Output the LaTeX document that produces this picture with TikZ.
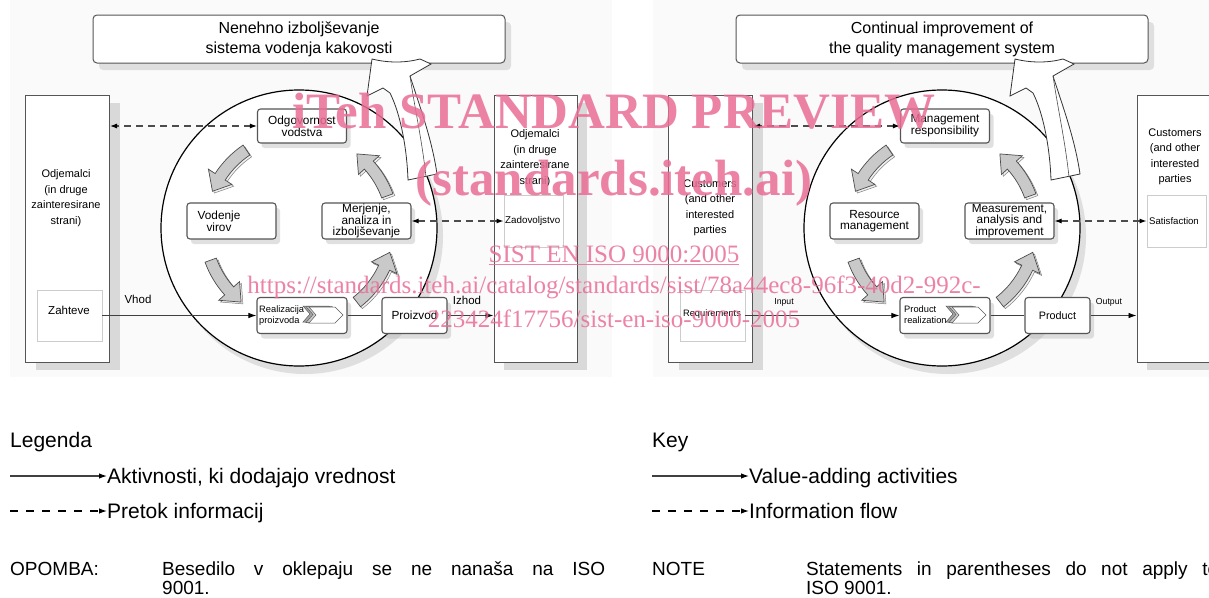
\documentclass[tikz,border=0pt]{standalone}
\usepackage{fontspec}
\setmainfont{Liberation Sans}
\newfontfamily\wmfont{Liberation Serif}
\usetikzlibrary{arrows.meta,shadows,positioning}

\definecolor{wmpink}{RGB}{233,110,150}
\definecolor{boxline}{RGB}{85,85,85}
\definecolor{panelgray}{RGB}{250,250,250}

\tikzset{
  titlebox/.style={draw=boxline, line width=1pt, rounded corners=4pt, fill=white,
    minimum width=412pt, minimum height=48pt, align=center,
    font=\fontsize{16}{20}\selectfont,
    drop shadow={shadow xshift=6pt, shadow yshift=-7pt, fill=gray!45, opacity=0.5}},
  procbox/.style={draw=boxline, line width=1.1pt, rounded corners=3pt, fill=white,
    minimum width=89pt, minimum height=36pt, align=center, inner sep=1pt,
    font=\fontsize{11.8}{10.5}\selectfont,
    drop shadow={shadow xshift=4pt, shadow yshift=-5pt, fill=gray!60, opacity=0.4}},
  partybox/.style={draw=boxline, line width=1pt, fill=white,
    minimum width=84pt, minimum height=267pt,
    drop shadow={shadow xshift=10pt, shadow yshift=-8pt, fill=gray!30, opacity=1}},
  needbox/.style={draw=gray!40, line width=0.8pt, fill=white,
    minimum width=62pt, minimum height=51pt},
  partytext/.style={align=center, font=\fontsize{11}{15.5}\selectfont},
  smalltext/.style={font=\fontsize{9.3}{11}\selectfont, inner sep=0pt},
  labeltext/.style={font=\fontsize{11.5}{13}\selectfont, inner sep=0pt},
  valueflow/.style={draw=black!75, line width=0.9pt,
    arrows={-Latex[length=8pt,width=5.5pt,color=black]}},
  infoflow/.style={draw=gray!60!black, line width=1.1pt, dash pattern=on 7pt off 5pt,
    arrows={Latex[length=7pt,width=5pt,color=black]-Latex[length=7pt,width=5pt,color=black]}},
  legendtext/.style={font=\fontsize{21}{24}\selectfont, inner sep=0pt, anchor=base west},
  notetext/.style={font=\fontsize{19}{22}\selectfont, inner sep=0pt, anchor=base west},
  watermark/.style={wmpink, opacity=0.85, inner sep=0pt, anchor=base}
}

% curved grey block arrow round the circle centre, from angle #1 to #2
\newcommand{\fatarrow}[2]{%
  \pgfmathsetmacro{\headbase}{#2-10}%
  \filldraw[fill=gray!12, draw=black!50, line width=0.5pt, shift={(1.8,-1.8)}]
    (#1:100) arc[start angle=#1, end angle=\headbase, radius=100] -- (\headbase:108)
    -- (#2:94) -- (\headbase:80) -- (\headbase:88)
    arc[start angle=\headbase, end angle=#1, radius=88] -- cycle;
  \filldraw[fill=gray!42, draw=black!70, line width=0.7pt]
    (#1:100) arc[start angle=#1, end angle=\headbase, radius=100] -- (\headbase:108)
    -- (#2:94) -- (\headbase:80) -- (\headbase:88)
    arc[start angle=\headbase, end angle=#1, radius=88] -- cycle;
}

% white improvement arrow up into the title box
\newcommand{\bigarrow}{%
  \filldraw[fill=white, draw=black!80, line width=0.8pt]
    (372,-59) .. controls (388,-63) and (405,-63) .. (420,-59) -- (431,-64) -- (410,-76)
    .. controls (421,-110) and (432,-140) .. (437,-174) -- (408,-180)
    .. controls (407,-150) and (401,-115) .. (390,-93) -- (383,-88) -- (367,-96) -- cycle;
  \draw[black!70, line width=0.6pt] (410,-76) .. controls (415,-110) and (422,-140) .. (426,-177);
}

\begin{document}
\begin{tikzpicture}[x=1pt, y=1pt]
\useasboundingbox (0,0) rectangle (1209,-597);
\clip (0,0) rectangle (1209,-597);

\fill[panelgray] (10,0) rectangle (612,-377);
\fill[panelgray] (653,0) rectangle (1209,-377);

%%% Slovene diagram
\begin{scope}
\fill[gray!25] (305,-236) circle (138);
\filldraw[fill=white, draw=black, line width=1.2pt] (299,-228) circle (138);
\begin{scope}[shift={(299,-228)}]
\fatarrow{124}{157}
\fatarrow{200}{232}
\fatarrow{308}{345}
\fatarrow{20}{52}
\end{scope}

\node[partybox] (Lcust) at (67.5,-228.5) {};
\node[needbox, minimum width=65pt] (Lreq) at (69.5,-315.5) {};
\node[partytext] (Lcusttext) at (66,-198) {Odjemalci\\(in druge\\zainteresirane\\strani)};
\node[labeltext] (Lreqtext) at (69,-310) {Zahteve};

\node[partybox, minimum width=83pt] (Lsat) at (535.5,-228.5) {};
\node[needbox, minimum width=59pt, minimum height=52pt] (Lsatin) at (533.5,-221) {};
\node[partytext] (Lsattext) at (535,-158) {Odjemalci\\(in druge\\zainteresirane\\strani)};
\node[smalltext, font=\fontsize{9.8}{11}\selectfont, anchor=west] (Lsatintext) at (505,-221) {Zadovoljstvo};

\node[procbox, minimum height=34pt] (Lresp) at (302,-126) {Odgovornost\\vodstva};
\node[procbox] (Lres) at (231.5,-221) {};
\node[labeltext, align=center, font=\fontsize{11.8}{10.5}\selectfont] (Lrestext) at (219,-221) {Vodenje\\virov};
\node[procbox] (Lmeas) at (366.5,-221) {Merjenje,\\analiza in\\izboljševanje};
\node[procbox, minimum width=90pt] (Lreal) at (302,-315.5) {};
\node[smalltext, align=left, anchor=west] (Lrealtext) at (259,-316) {Realizacija\\proizvoda};
\node[procbox, minimum width=65pt] (Lprod) at (414.5,-315.5) {Proizvod};

\begin{scope}[shift={(309,-307)}]
\foreach \dx/\dy/\shade in {-6/1/gray!70, -3/0.5/gray!40, 0/0/white}
  \filldraw[fill=\shade, draw=black!65, line width=0.5pt]
    (\dx,\dy) -- ++(26,0) -- ++(8,-8) -- ++(-8,-8) -- ++(-26,0) -- ++(7,8) -- cycle;
\end{scope}

\draw[infoflow] (Lresp.west) -- (Lresp.west -| Lcust.east);
\draw[infoflow] (Lmeas.east) -- (Lmeas.east -| Lsatin.west);
\draw[valueflow] (Lreq.east) -- (Lreal.west);
\draw[draw=black!75, line width=0.9pt] (Lreal.east) -- (Lprod.west);
\draw[valueflow] (Lprod.east) -- (Lprod.east -| Lsat.west);
\node[labeltext] (Lin) at (138,-299) {Vhod};
\node[labeltext] (Lout) at (467,-300) {Izhod};

\node[titlebox] (Ltitle) at (299,-39) {Nenehno izboljševanje\\sistema vodenja kakovosti};
\bigarrow
\end{scope}

%%% English diagram
\begin{scope}[shift={(643,0)}]
\fill[gray!25] (305,-236) circle (138);
\filldraw[fill=white, draw=black, line width=1.2pt] (299,-228) circle (138);
\begin{scope}[shift={(299,-228)}]
\fatarrow{124}{157}
\fatarrow{200}{232}
\fatarrow{308}{345}
\fatarrow{20}{52}
\end{scope}

\node[partybox] (Rcust) at (67.5,-228.5) {};
\node[needbox, minimum width=65pt] (Rreq) at (69.5,-315.5) {};
\node[partytext] (Rcusttext) at (67,-208) {Customers\\(and other\\interested\\parties};
\node[smalltext] (Rreqtext) at (69,-314) {Requirements};

\node[partybox, minimum width=83pt] (Rsat) at (535.5,-228.5) {};
\node[needbox, minimum width=59pt, minimum height=52pt] (Rsatin) at (533.5,-221) {};
\node[partytext] (Rsattext) at (532,-157) {Customers\\(and other\\interested\\parties};
\node[smalltext, font=\fontsize{9.6}{11}\selectfont] (Rsatintext) at (531,-221) {Satisfaction};

\node[procbox, minimum height=34pt] (Rresp) at (302,-126) {Management\\responsibility};
\node[procbox] (Rres) at (231.5,-221) {Resource\\management};
\node[procbox] (Rmeas) at (366.5,-221) {Measurement,\\analysis and\\improvement};
\node[procbox, minimum width=90pt] (Rreal) at (302,-315.5) {};
\node[smalltext, align=left, anchor=west] (Rrealtext) at (261,-315) {Product\\realization};
\node[procbox, minimum width=65pt, font=\fontsize{10.8}{12}\selectfont] (Rprod) at (414.5,-315.5) {Product};

\begin{scope}[shift={(309,-307)}]
\foreach \dx/\dy/\shade in {-6/1/gray!70, -3/0.5/gray!40, 0/0/white}
  \filldraw[fill=\shade, draw=black!65, line width=0.5pt]
    (\dx,\dy) -- ++(26,0) -- ++(8,-8) -- ++(-8,-8) -- ++(-26,0) -- ++(7,8) -- cycle;
\end{scope}

\draw[infoflow] (Rresp.west) -- (Rresp.west -| Rcust.east);
\draw[infoflow] (Rmeas.east) -- (Rmeas.east -| Rsatin.west);
\draw[valueflow] (Rreq.east) -- (Rreal.west);
\draw[draw=black!75, line width=0.9pt] (Rreal.east) -- (Rprod.west);
\draw[valueflow] (Rprod.east) -- (Rprod.east -| Rsat.west);
\node[smalltext, font=\fontsize{8.7}{10}\selectfont] (Rin) at (141,-302) {Input};
\node[smalltext, font=\fontsize{8.7}{10}\selectfont] (Rout) at (466,-302) {Output};

\node[titlebox] (Rtitle) at (299,-39) {Continual improvement of\\the quality management system};
\bigarrow
\end{scope}

%%% legends
\node[legendtext] (Llegend) at (10,-447) {Legenda};
\coordinate (Lsolid) at (10,-476);
\node[legendtext] (Lsolidtext) at (107,-483) {Aktivnosti, ki dodajajo vrednost};
\draw[valueflow, line width=1.2pt] (Lsolid) -- (Lsolid -| Lsolidtext.west);
\coordinate (Ldash) at (10,-511);
\node[legendtext] (Ldashtext) at (107,-518) {Pretok informacij};
\draw[black, line width=1.2pt, dash pattern=on 8pt off 8pt,
  arrows={-Latex[length=8pt,width=5.5pt]}] (Ldash) -- (Ldash -| Ldashtext.west);
\node[notetext] (Lnote) at (10,-575) {OPOMBA:};
\node[notetext] (Lnotetext) at (162,-575) {\makebox[443pt][s]{Besedilo v oklepaju se ne nanaša na ISO}};
\node[notetext] (Lnotetext2) at (162,-594) {9001.};

\node[legendtext] (Rlegend) at (652,-447) {Key};
\coordinate (Rsolid) at (652,-476);
\node[legendtext] (Rsolidtext) at (749,-483) {Value-adding activities};
\draw[valueflow, line width=1.2pt] (Rsolid) -- (Rsolid -| Rsolidtext.west);
\coordinate (Rdash) at (652,-511);
\node[legendtext] (Rdashtext) at (749,-518) {Information flow};
\draw[black, line width=1.2pt, dash pattern=on 8pt off 8pt,
  arrows={-Latex[length=8pt,width=5.5pt]}] (Rdash) -- (Rdash -| Rdashtext.west);
\node[notetext] (Rnote) at (652,-575) {NOTE};
\node[notetext] (Rnotetext) at (806,-575) {\makebox[412pt][s]{Statements in parentheses do not apply to}};
\node[notetext] (Rnotetext2) at (806,-594) {ISO 9001.};

%%% watermark
\node[watermark, font=\wmfont\bfseries\fontsize{51}{53}\selectfont] (wmtop) at (614,-128) {iTeh STANDARD PREVIEW};
\node[watermark, font=\wmfont\bfseries\fontsize{51}{53}\selectfont] (wmsite) at (614,-195) {(standards.iteh.ai)};
\node[watermark, font=\wmfont\fontsize{25}{27}\selectfont] (wmstd) at (614,-262) {\underline{SIST EN ISO 9000:2005}};
\node[watermark, font=\wmfont\fontsize{25}{27}\selectfont] (wmurl) at (614,-293) {https://standards.iteh.ai/catalog/standards/sist/78a44ec8-96f3-40d2-992c-};
\node[watermark, font=\wmfont\fontsize{25}{27}\selectfont] (wmid) at (614,-327) {223424f17756/sist-en-iso-9000-2005};
\end{tikzpicture}
\end{document}
